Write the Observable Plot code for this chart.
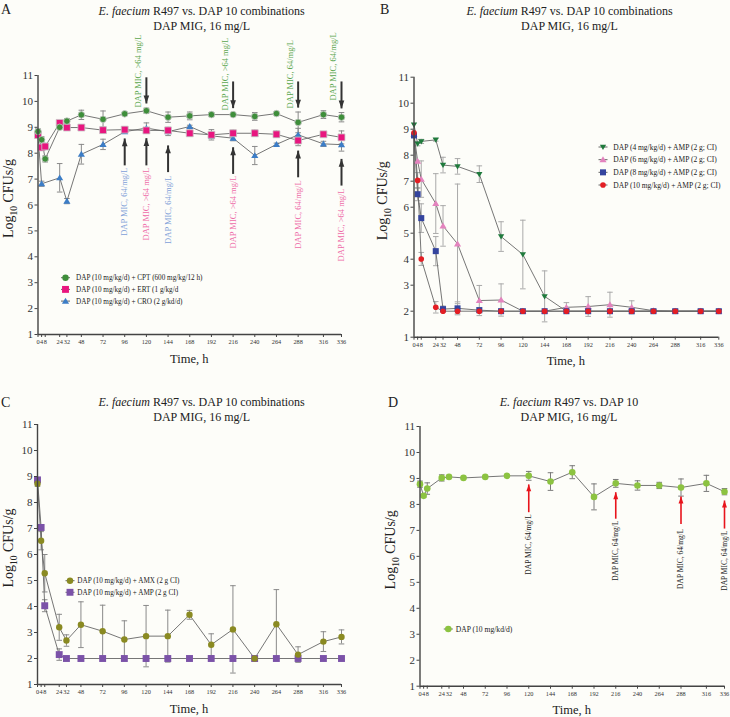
<!DOCTYPE html>
<html><head><meta charset="utf-8">
<script src="https://cdn.jsdelivr.net/npm/d3@7"></script>
<script src="https://cdn.jsdelivr.net/npm/@observablehq/plot@0.6"></script>
<style>
body{margin:0;background:#fdfdf9;}
#root{position:relative;width:730px;height:717px;font-family:"Liberation Serif","DejaVu Serif",serif;color:#222;overflow:hidden;}
.ttl{position:absolute;width:320px;text-align:center;font-size:12px;line-height:15px;white-space:nowrap;}
.ltr{position:absolute;font-size:14px;line-height:14px;}
svg{overflow:visible;}
</style></head><body><div id="root"></div>
<script>
// ---------- DATA ----------
const times = [0,4,8,24,32,48,72,96,120,144,168,192,216,240,264,288,316,336];
const yTicks = [1,2,3,4,5,6,7,8,9,10,11];

// Panel A
const aCptY  = [8.84,8.52,7.78,9.00,9.24,9.48,9.31,9.52,9.64,9.39,9.44,9.49,9.49,9.42,9.53,9.19,9.49,9.39];
const aCptSd = [0.10,0.12,0.12,0.05,0.10,0.18,0.32,0.04,0.10,0.20,0.15,0.08,0.05,0.15,0.04,0.40,0.15,0.18];
const aErtY  = [8.70,8.22,8.26,9.17,8.99,8.99,8.89,8.91,8.88,8.88,8.77,8.71,8.77,8.77,8.73,8.49,8.73,8.61];
const aErtSd = [0.12,0.10,0.12,0.08,0.10,0.10,0.12,0.10,0.10,0.12,0.12,0.20,0.12,0.12,0.12,0.20,0.08,0.25];
const aCroTimes = [0,4,24,32,48,72,96,120,144,168,192,216,240,264,288,316,336];
const aCroY  = [8.72,6.82,7.05,6.15,7.96,8.34,8.83,8.97,8.83,9.03,8.67,8.58,7.91,8.34,8.71,8.36,8.33];
const aCroSd = [0.10,0.10,0.55,0.10,0.38,0.20,0.05,0.20,0.15,0.05,0.10,0.10,0.35,0.05,0.25,0.10,0.25];
const aLegend = ["DAP (10 mg/kg/d) + CPT (600 mg/kg/12 h)","DAP (10 mg/kg/d) + ERT (1 g/kg/d","DAP (10 mg/kg/d) + CRO (2 g/kd/d)"];
const aTopTimes = [120,216,288,336];
const aTopTail  = [10.93,10.77,10.77,10.77];
const aTopTip   = [9.92,9.74,9.76,9.73];
const aTopTextY = [9.76,9.65,9.73,10.03];
const aTopLabels = ["DAP MIC, >64 mg/L","DAP MIC, >64 mg/L","DAP MIC, 64/mg/L","DAP MIC, 64/mg/L"];
const aBotTimes = [96,120,144,216,288,336];
const aBotTip   = [8.57,8.58,8.30,8.23,8.10,7.78];
const aBotTail  = [7.53,7.53,7.27,7.20,7.07,6.75];
const aBotTextY = [7.45,7.45,7.14,7.14,6.95,6.64];
const aBotLabels = ["DAP MIC, 64/mg/L","DAP MIC, >64 mg/L","DAP MIC, 64/mg/L","DAP MIC, >64 mg/L","DAP MIC, 64/mg/L","DAP MIC, >64 mg/L"];
const aBotSeries = ["CRO","ERT","CRO","ERT","ERT","ERT"];

// Panel B
const bDap4Y  = [9.17,8.44,8.53,8.59,7.62,7.57,7.27,4.87,4.18,2.57,2.00,2.00,2.00,2.00,2.00,2.00,2.00,2.00];
const bDap4Sd = [0,0.08,0.08,0.05,0.30,0.30,0.32,0.57,1.32,0.98,0,0,0,0,0,0,0,0];
const bDap6Y  = [8.80,7.77,7.08,6.14,5.28,4.59,2.41,2.43,2.00,2.00,2.15,2.18,2.25,2.15,2.02,2.00,2.00,2.00];
const bDap6Sd = [0,0,0.70,1.15,0.78,2.30,0.58,0.62,0,0,0.18,0.38,0.48,0.25,0,0,0,0];
const bDap8Y  = [8.76,6.50,5.58,4.31,2.08,2.11,2.04,2.00,2.00,2.00,2.00,2.00,2.00,2.00,2.00,2.00,2.00,2.00];
const bDap8Sd = [0,0.25,0.55,0.56,0.12,0.25,0.10,0.08,0,0,0,0,0,0,0,0,0,0];
const bDap10Y = [8.86,7.03,4.01,2.15,2.00,2.00,2.00,2.00,2.00,2.00,2.00,2.00,2.00,2.00,2.00,2.00,2.00,2.00];
const bDap10Sd= [0,0.30,0.25,0.22,0,0.10,0,0,0,0,0,0,0,0,0,0,0,0];
const bLegend = ["DAP (4 mg/kg/d) + AMP (2 g; CI)","DAP (6 mg/kg/d) + AMP (2 g; CI)","DAP (8 mg/kg/d) + AMP (2 g; CI)","DAP (10 mg/kg/d) + AMP (2 g; CI)"];

// Panel C
const cAmxY  = [8.72,6.53,5.28,3.20,2.69,3.30,3.05,2.73,2.86,2.86,3.68,2.53,3.12,2.00,3.32,2.15,2.65,2.83];
const cAmxSd = [0.10,0.35,0.72,0.50,0.22,0.88,1.00,0.72,1.18,1.00,0.17,0.42,1.68,0.03,1.33,0.30,0.38,0.27];
const cAmpY  = [8.87,7.04,4.03,2.15,2.00,2.00,2.00,2.00,2.00,2.00,2.00,2.00,2.00,2.00,2.00,2.00,2.00,2.00];
const cAmpSd = [0.05,0.10,0.23,0.22,0,0,0,0,0.10,0.05,0,0,0,0,0,0.05,0,0];
const cLegend = ["DAP (10 mg/kg/d) + AMX (2 g CI)","DAP (10 mg/kg/d) + AMP (2 g CI)"];

// Panel D
const dY  = [8.78,8.33,8.61,9.02,9.06,9.02,9.06,9.10,9.10,8.88,9.24,8.29,8.81,8.73,8.73,8.65,8.81,8.49];
const dSd = [0.12,0.05,0.22,0.12,0.04,0.03,0.03,0.03,0.17,0.34,0.25,0.50,0.15,0.18,0.12,0.33,0.31,0.12];
const dLegend = ["DAP (10 mg/kd/d)"];
const dArrTimes = [120,216,288,336];
const dArrTip   = [8.77,8.47,8.30,8.15];
const dArrTail  = [7.70,7.45,7.25,7.07];
const dArrTextY = [7.62,7.38,7.07,7.00];
const dArrLabel = "DAP MIC, 64/mg/L";

// ---------- SYMBOLS ----------
const rad = s => Math.sqrt(s / Math.PI);
const capSym = {draw(c, s){const r = rad(s); c.moveTo(-r,0); c.lineTo(r,0);}};
const upTri = {draw(c, s){const r = rad(s); c.moveTo(0,-r); c.lineTo(r*1.05,r*0.75); c.lineTo(-r*1.05,r*0.75); c.closePath();}};
const downTri = {draw(c, s){const r = rad(s); c.moveTo(0,r); c.lineTo(r*1.05,-r*0.75); c.lineTo(-r*1.05,-r*0.75); c.closePath();}};
const headUp = {draw(c, s){const r = rad(s); c.moveTo(0,0); c.lineTo(r*0.85,r*2.4); c.lineTo(-r*0.85,r*2.4); c.closePath();}};
const headDown = {draw(c, s){const r = rad(s); c.moveTo(0,0); c.lineTo(r*0.85,-r*2.4); c.lineTo(-r*0.85,-r*2.4); c.closePath();}};

const FONT = '"Liberation Serif","DejaVu Serif",serif';
const rows = (ts, ys, sds) => ts.map((t, i) => ({t, y: ys[i], sd: sds[i]}));

function arrowMarks(ts, tails, tips, dir, color, width, headR) {
  const d = ts.map((t, i) => ({t, tail: tails[i], tip: tips[i]}));
  return [
    Plot.link(d, {x1: "t", x2: "t", y1: "tail", y2: "tip", stroke: color, strokeWidth: width}),
    Plot.dot(d, {x: "t", y: "tip", symbol: dir === "up" ? headUp : headDown, r: headR, fill: color, stroke: "none"})
  ];
}
function labelMarks(ts, ys, labels, colors, anchor, dx, fontSize) {
  return ts.map((t, i) => Plot.text([{t, y: ys[i], label: labels[i]}],
    {x: "t", y: "y", text: "label", rotate: -90, textAnchor: anchor, lineAnchor: "middle", dx, fill: colors[i], fontSize}));
}

function makePanel(cfg) {
  const {width, height, ml, mr, mt, mb, series, ebColor, lineColor, annotations = [], legend, legendFont, ylabX} = cfg;
  const marks = [];
  for (const s of series) {
    const eb = s.data.filter(d => d.sd > 0.02);
    marks.push(Plot.ruleX(eb, {x: "t", y1: d => d.y - d.sd, y2: d => d.y + d.sd, stroke: ebColor, strokeWidth: 1}));
    marks.push(Plot.dot(eb, {x: "t", y: d => d.y + d.sd, symbol: capSym, r: 2.8, stroke: ebColor, fill: "none", strokeWidth: 1}));
    marks.push(Plot.dot(eb, {x: "t", y: d => d.y - d.sd, symbol: capSym, r: 2.8, stroke: ebColor, fill: "none", strokeWidth: 1}));
  }
  for (const s of series) marks.push(Plot.line(s.data, {x: "t", y: "y", stroke: lineColor, strokeWidth: 0.9}));
  for (const s of series) marks.push(Plot.dot(s.data, {x: "t", y: "y", symbol: s.symbol, r: s.r, fill: s.color, stroke: s.halo || "none", strokeWidth: 0.8}));
  marks.push(...annotations);
  marks.push(
    Plot.ruleY([1], {stroke: "#444", strokeWidth: 1.4}),
    Plot.ruleX([0], {stroke: "#444", strokeWidth: 1.4}),
    Plot.axisX({ticks: times, tickFormat: d => String(d), tickSize: 3, tickPadding: 2, fontSize: 6.3, label: null, stroke: "#444", fill: "#333"}),
    Plot.axisY({ticks: yTicks, tickFormat: d => String(d), tickSize: 3, tickPadding: 2, fontSize: 11, label: null, stroke: "#444", fill: "#333"})
  );
  const svg = Plot.plot({
    width, height, marginLeft: ml, marginRight: mr, marginTop: mt, marginBottom: mb,
    x: {domain: [0, 336]}, y: {domain: [1, 11]},
    style: {fontFamily: FONT, background: "transparent", overflow: "visible"},
    marks
  });
  const S = d3.select(svg);
  const plotH = height - mt - mb;
  // y label with subscript
  const yl = S.append("text").attr("transform", `translate(${ylabX},${mt + plotH / 2 - 6}) rotate(-90)`)
    .attr("text-anchor", "middle").attr("font-size", 14).attr("fill", "#222").attr("font-family", FONT);
  yl.append("tspan").text("Log");
  yl.append("tspan").attr("font-size", 9.5).attr("dy", 4).text("10");
  yl.append("tspan").attr("dy", -4).text(" CFUs/g");
  // x label
  S.append("text").attr("x", (ml + width - mr) / 2).attr("y", height - mb + 28.5)
    .attr("text-anchor", "middle").attr("font-size", 12.5).attr("fill", "#222").attr("font-family", FONT).text("Time, h");
  // legend
  const g = S.append("g").attr("font-family", FONT).attr("font-size", legendFont).attr("fill", "#222").attr("text-anchor", "start");
  legend.items.forEach((it, i) => {
    const y = legend.y0 + i * legend.dy;
    g.append("line").attr("x1", legend.x - 4.5).attr("x2", legend.x + 4.5).attr("y1", y).attr("y2", y).attr("stroke", "#555").attr("stroke-width", 0.9);
    g.append("path").attr("transform", `translate(${legend.x},${y})`).attr("d", d3.symbol(it.symbol, it.r * it.r * Math.PI)()).attr("fill", it.color);
    g.append("text").attr("x", legend.tx).attr("y", y).attr("dy", "0.35em").attr("text-anchor", "start").text(it.label);
  });
  return svg;
}

const root = document.getElementById("root");
function place(el, left, top) { el.style.position = "absolute"; el.style.left = left + "px"; el.style.top = top + "px"; root.appendChild(el); }
function addTitle(letter, lx, ly, cx, ty, line1, line2) {
  const L = document.createElement("div"); L.className = "ltr"; L.textContent = letter; L.style.left = lx + "px"; L.style.top = ly + "px"; root.appendChild(L);
  const T = document.createElement("div"); T.className = "ttl"; T.style.left = (cx - 160) + "px"; T.style.top = ty + "px";
  T.innerHTML = line1 + "<br>" + line2; root.appendChild(T);
}

// ---------- PANEL A ----------
const A_GREEN = "#3e8e3a", A_PINK = "#e8167f", A_BLUE = "#3c7dc6";
const aTxtColor = {CRO: "#7d9fd8", ERT: "#ee6aa8"};
const svgA = makePanel({
  width: 365, height: 370, ml: 37.5, mr: 24, mt: 75, mb: 36, ebColor: "#8a8a8a", lineColor: "#666", ylabX: 13, legendFont: 7.2,
  series: [
    {data: rows(aCroTimes, aCroY, aCroSd), symbol: upTri, r: 3.4, color: A_BLUE},
    {data: rows(times, aErtY, aErtSd), symbol: d3.symbolSquare, r: 3.9, color: A_PINK, halo: "#c8c8c8"},
    {data: rows(times, aCptY, aCptSd), symbol: d3.symbolCircle, r: 3.3, color: A_GREEN, halo: "#c8c8c8"}
  ],
  annotations: [
    ...arrowMarks(aTopTimes, aTopTail, aTopTip, "down", "#333", 2, 3.3),
    ...labelMarks(aTopTimes, aTopTextY, aTopLabels, aTopTimes.map(() => "#5aa64e"), "start", -8, 8.5),
    ...arrowMarks(aBotTimes, aBotTail, aBotTip, "up", "#333", 2, 3.3),
    ...labelMarks(aBotTimes, aBotTextY, aBotLabels, aBotSeries.map(s => aTxtColor[s]), "end", 0, 8.5)
  ],
  legend: {x: 65.5, tx: 76, y0: 277.7, dy: 11.7, items: [
    {symbol: d3.symbolCircle, r: 3.2, color: A_GREEN, label: aLegend[0]},
    {symbol: d3.symbolSquare, r: 3.9, color: A_PINK, label: aLegend[1]},
    {symbol: upTri, r: 3.4, color: A_BLUE, label: aLegend[2]}
  ]}
});
place(svgA, 0, 0);
addTitle("A", 1, 3, 201.7, 3.5, "<i>E. faecium</i> R497 vs. DAP 10 combinations", "DAP MIG, 16 mg/L");

// ---------- PANEL B ----------
const B_GREEN = "#1f7a3c", B_PINK = "#e383be", B_BLUE = "#34449e", B_RED = "#e31e24";
const svgB = makePanel({
  width: 365, height: 370, ml: 48.5, mr: 11.7, mt: 76.7, mb: 33.3, ebColor: "#aaaaaa", lineColor: "#666", ylabX: 22, legendFont: 7.5,
  series: [
    {data: rows(times, bDap4Y, bDap4Sd), symbol: downTri, r: 3.0, color: B_GREEN},
    {data: rows(times, bDap6Y, bDap6Sd), symbol: upTri, r: 3.4, color: B_PINK},
    {data: rows(times, bDap8Y, bDap8Sd), symbol: d3.symbolSquare, r: 3.4, color: B_BLUE},
    {data: rows(times, bDap10Y, bDap10Sd), symbol: d3.symbolCircle, r: 2.8, color: B_RED}
  ],
  legend: {x: 238, tx: 248.3, y0: 147, dy: 12.67, items: [
    {symbol: downTri, r: 3.0, color: B_GREEN, label: bLegend[0]},
    {symbol: upTri, r: 3.4, color: B_PINK, label: bLegend[1]},
    {symbol: d3.symbolSquare, r: 3.4, color: B_BLUE, label: bLegend[2]},
    {symbol: d3.symbolCircle, r: 2.8, color: B_RED, label: bLegend[3]}
  ]}
});
place(svgB, 365, 0);
addTitle("B", 380, 3, 569.5, 3.5, "<i>E. faecium</i> R497 vs. DAP 10 combinations", "DAP MIG, 16 mg/L");

// ---------- PANEL C ----------
const C_OLIVE = "#8a8a22", C_PURPLE = "#7b52a8";
const svgC = makePanel({
  width: 365, height: 347, ml: 37, mr: 24, mt: 54, mb: 33, ebColor: "#8a8a8a", lineColor: "#666", ylabX: 13, legendFont: 7.2,
  series: [
    {data: rows(times, cAmpY, cAmpSd), symbol: d3.symbolSquare, r: 3.9, color: C_PURPLE},
    {data: rows(times, cAmxY, cAmxSd), symbol: d3.symbolCircle, r: 3.2, color: C_OLIVE}
  ],
  legend: {x: 70, tx: 77.3, y0: 210.7, dy: 11.6, items: [
    {symbol: d3.symbolCircle, r: 3.2, color: C_OLIVE, label: cLegend[0]},
    {symbol: d3.symbolSquare, r: 3.9, color: C_PURPLE, label: cLegend[1]}
  ]}
});
place(svgC, 0, 370);
addTitle("C", 1, 396, 201.7, 394.5, "<i>E. faecium</i> R497 vs. DAP 10 combinations", "DAP MIG, 16 mg/L");

// ---------- PANEL D ----------
const D_GREEN = "#8cc341", D_RED = "#e8141c";
const svgD = makePanel({
  width: 365, height: 347, ml: 54.5, mr: 6, mt: 56, mb: 31.3, ebColor: "#7a7a7a", lineColor: "#666", ylabX: 30, legendFont: 7.6,
  series: [
    {data: rows(times, dY, dSd), symbol: d3.symbolCircle, r: 3.3, color: D_GREEN}
  ],
  annotations: [
    ...arrowMarks(dArrTimes, dArrTail, dArrTip, "up", D_RED, 1.6, 2.9),
    ...labelMarks(dArrTimes, dArrTextY, dArrTimes.map(() => dArrLabel), dArrTimes.map(() => "#222"), "end", 0, 7.5)
  ],
  legend: {x: 83.3, tx: 90.7, y0: 259, dy: 12, items: [
    {symbol: d3.symbolCircle, r: 3.3, color: D_GREEN, label: dLegend[0]}
  ]}
});
place(svgD, 365, 370);
addTitle("D", 388, 396, 569, 394.5, "<i>E. faecium</i> R497 vs. DAP 10", "DAP MIG, 16 mg/L");
</script></body></html>
